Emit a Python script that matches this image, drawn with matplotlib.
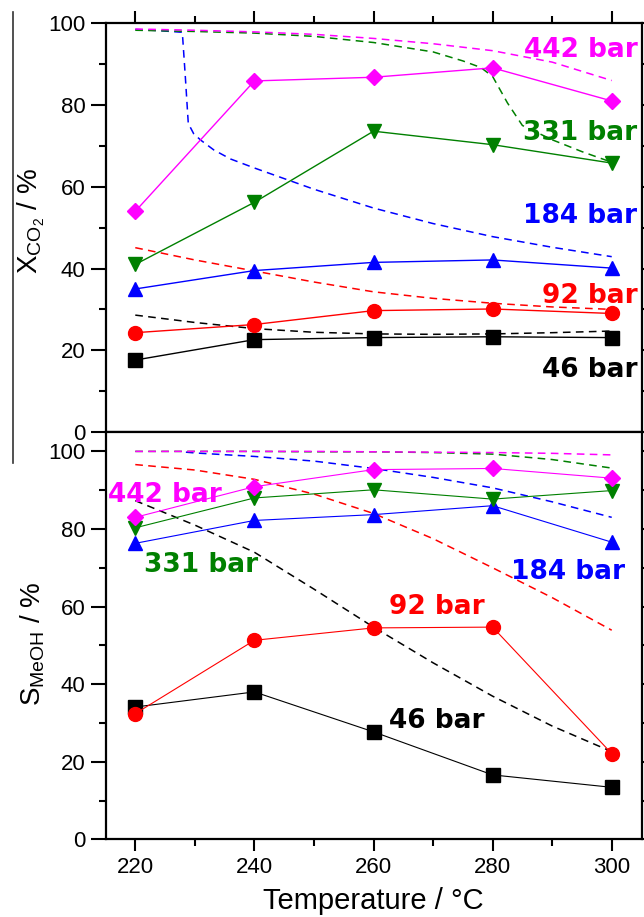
import matplotlib
matplotlib.use('Agg')
import matplotlib.pyplot as plt
from matplotlib.lines import Line2D
from matplotlib.ticker import MultipleLocator

# measured points (markers), temperature in degC
temps = [220, 240, 260, 280, 300]

# CO2 conversion / %
conv_46 = [17.6, 22.6, 23.1, 23.3, 23.1]
conv_92 = [24.3, 26.3, 29.7, 30.1, 29.0]
conv_184 = [35.0, 39.5, 41.5, 42.1, 40.1]
conv_331 = [41.0, 56.2, 73.6, 70.3, 65.8]
conv_442 = [54.0, 85.9, 86.8, 89.1, 81.0]

# MeOH selectivity / %
sel_46 = [34.1, 38.0, 27.7, 16.6, 13.4]
sel_92 = [32.4, 51.3, 54.5, 54.7, 22.1]
sel_184 = [76.3, 82.2, 83.7, 86.0, 76.6]
sel_331 = [80.3, 88.0, 90.1, 87.7, 89.9]
sel_442 = [83.0, 90.9, 95.3, 95.6, 93.1]

# equilibrium curves (dashed)
t_eq = [220, 230, 240, 250, 260, 270, 280, 290, 300]
eq_conv_46 = [28.6, 26.8, 25.3, 24.4, 24.0, 23.9, 24.0, 24.3, 24.7]
eq_conv_92 = [45.1, 42.1, 39.4, 36.7, 34.3, 32.7, 31.5, 30.6, 30.0]
t_eq_184 = [220, 224, 227.9, 228.4, 228.9, 229.8, 231, 233.2, 236, 240, 250, 260, 270, 280, 290, 300]
eq_conv_184 = [98.5, 98.2, 97.8, 87.0, 75.5, 73.0, 71.4, 69.0, 66.8, 64.6, 59.4, 54.8, 51.0, 47.8, 45.2, 42.9]
t_eq_331 = [220, 230, 240, 250, 260, 270, 275, 278, 280, 282.5, 285, 290, 295, 300]
eq_conv_331 = [98.3, 98.0, 97.6, 96.8, 95.3, 93.0, 90.8, 89.2, 87.0, 80.5, 75.0, 71.5, 68.6, 66.0]
eq_conv_442 = [98.6, 98.3, 97.9, 97.3, 96.3, 95.0, 93.3, 90.5, 86.0]

eq_sel_46 = [87.3, 81.0, 74.0, 64.5, 54.7, 45.5, 36.9, 29.2, 22.6]
eq_sel_92 = [96.6, 95.2, 92.8, 89.0, 84.0, 77.5, 70.0, 62.3, 53.9]
t_eq_sel_184 = [228.5, 230, 240, 250, 260, 270, 280, 290, 300]
eq_sel_184 = [99.8, 99.6, 98.7, 97.5, 95.6, 93.3, 90.6, 87.0, 83.0]
eq_sel_331 = [100.0, 100.0, 100.0, 99.9, 99.9, 99.7, 99.3, 97.9, 95.7]
eq_sel_442 = [100.0, 100.0, 100.0, 100.0, 99.9, 99.8, 99.7, 99.5, 99.1]

pressures = ['46 bar', '92 bar', '184 bar', '331 bar', '442 bar']
colors = ['black', '#ff0000', '#0000ff', '#008000', '#ff00ff']
markers = ['s', 'o', '^', 'v', 'D']
msizes = [9.5, 10, 10.5, 10.5, 8.5]

plt.rcParams['font.family'] = 'Liberation Sans'
plt.rcParams['mathtext.fontset'] = 'custom'
plt.rcParams['mathtext.rm'] = 'Liberation Sans'
plt.rcParams['mathtext.it'] = 'Liberation Sans:italic'

W, H = 644, 917
fig = plt.figure(figsize=(W / 100, H / 100), dpi=100)
ax1 = fig.add_axes([105.5 / W, 1 - 432 / H, 536 / W, (432 - 23.3) / H])
ax2 = fig.add_axes([105.5 / W, 1 - 839.3 / H, 536 / W, (839.3 - 432) / H])

dash = (5, 3.5)

# top: conversion
eq_top = [(t_eq, eq_conv_46), (t_eq, eq_conv_92), (t_eq_184, eq_conv_184),
          (t_eq_331, eq_conv_331), (t_eq, eq_conv_442)]
meas_top = [conv_46, conv_92, conv_184, conv_331, conv_442]
for (tt, yy), c in zip(eq_top, colors):
    ax1.plot(tt, yy, color=c, lw=1.1, dashes=dash, zorder=2)
for yy, c, m, ms in zip(meas_top, colors, markers, msizes):
    ax1.plot(temps, yy, color=c, lw=1.0, marker=m, ms=ms, mec=c, mfc=c, zorder=3)

# bottom: selectivity
eq_bot = [(t_eq, eq_sel_46), (t_eq, eq_sel_92), (t_eq_sel_184, eq_sel_184),
          (t_eq, eq_sel_331), (t_eq, eq_sel_442)]
meas_bot = [sel_46, sel_92, sel_184, sel_331, sel_442]
for (tt, yy), c in zip(eq_bot, colors):
    ax2.plot(tt, yy, color=c, lw=1.1, dashes=dash, zorder=2)
for yy, c, m, ms in zip(meas_bot, colors, markers, msizes):
    ax2.plot(temps, yy, color=c, lw=0.8, marker=m, ms=ms, mec=c, mfc=c, zorder=3)

lab_kw = dict(family='DejaVu Sans', fontweight='bold', fontsize=19, va='baseline')
# top labels, right aligned
top_pos = [13.5, 31.5, 51.2, 71.4, 91.7]
for p, c, yb in zip(pressures, colors, top_pos):
    ax1.text(304.3, yb, p, color=c, ha='right', **lab_kw)
# bottom labels
bot_pos = [(270.6, 28.6), (270.6, 58.2), (292.6, 67.2), (231.1, 68.9), (224.9, 86.9)]
for p, c, (xt, yb) in zip(pressures, colors, bot_pos):
    ax2.text(xt, yb, p, color=c, ha='center', **lab_kw)

for ax in (ax1, ax2):
    ax.set_xlim(215, 305)
    ax.xaxis.set_major_locator(MultipleLocator(20))
    ax.xaxis.set_minor_locator(MultipleLocator(10))
    ax.yaxis.set_major_locator(MultipleLocator(20))
    ax.yaxis.set_minor_locator(MultipleLocator(10))
    for s in ax.spines.values():
        s.set_linewidth(1.6)
    ax.tick_params(which='both', direction='out', width=1.5, labelsize=16)
    ax.tick_params(axis='x', which='major', length=8.5, pad=4)
    ax.tick_params(axis='y', which='major', length=10.5, pad=4)
    ax.tick_params(which='minor', length=5)

ax1.set_ylim(0, 100)
ax1.tick_params(which='both', top=True, bottom=False, labelbottom=False, left=True, right=True)
ax2.set_ylim(0, 105)
ax2.tick_params(which='both', top=False, bottom=True, left=True, right=True)

ax1.set_ylabel(r'X$_{\mathrm{CO}_2}$ / %', fontsize=20)
ax2.set_ylabel(r'S$_{\mathrm{MeOH}}$ / %', fontsize=20)
ax1.yaxis.set_label_coords(-0.11, 0.515)
ax2.yaxis.set_label_coords(-0.11, 0.48)
ax2.set_xlabel('Temperature / °C', fontsize=21, labelpad=7)

# thin stray rule at the left edge of the original scan
fig.add_artist(Line2D([13.3 / W, 13.3 / W], [1 - 11.7 / H, 1 - 463 / H],
                      transform=fig.transFigure, color='#333333', lw=1.2))

fig.savefig('out.png', dpi=100)
